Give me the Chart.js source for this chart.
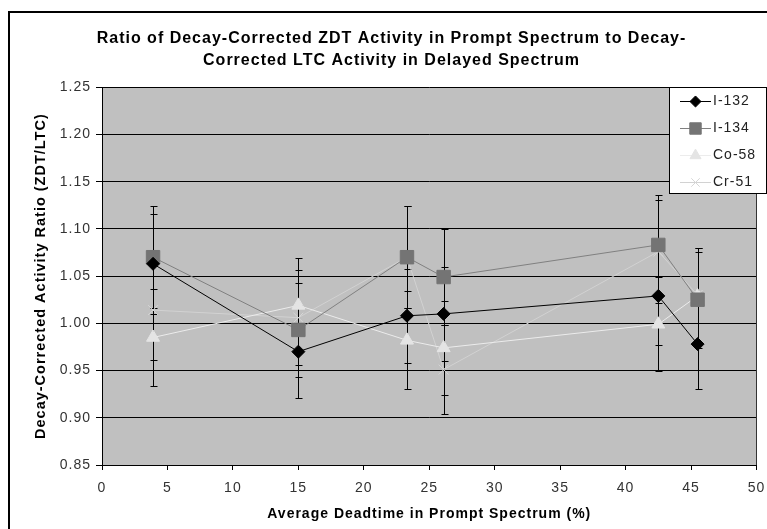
<!DOCTYPE html>
<html>
<head>
<meta charset="utf-8">
<title>ZDT / LTC activity ratio</title>
<script src="https://cdn.jsdelivr.net/npm/chart.js@4.4.0/dist/chart.umd.min.js"></script>
<style>
  body { margin: 0; background: #fff; }
  #wrap { position: relative; width: 767px; height: 529px; overflow: hidden; }
  #frame { position: absolute; left: 8px; top: 11px; width: 800px; height: 600px; border: 2px solid #000; }
  #ratioChart { position: absolute; left: 0; top: 0; }
</style>
</head>
<body>
<div id="wrap">
  <div id="frame"></div>
  <canvas id="ratioChart" width="767" height="529"></canvas>
</div>
<script>
// Average deadtime in prompt spectrum (%), same for every nuclide
const deadtime = [3.9, 15.0, 23.3, 26.1, 42.5, 45.5];

// Decay-corrected ZDT/LTC ratio and its uncertainty, per nuclide
const i132 = [1.063, 0.970, 1.008, 1.010, 1.029, 0.978];
const i132Err = [0.053, 0.049, 0.050, 0.050, 0.052, 0.048];

const i134 = [1.070, 0.993, 1.070, 1.049, 1.083, 1.025];
const i134Err = [0.054, 0.050, 0.054, 0.051, 0.053, 0.051];

const co58 = [0.985, 1.019, 0.982, 0.974, 0.999, 1.029];
const co58Err = [0.051, 0.050, 0.052, 0.050, 0.050, 0.051];

const cr51 = [1.014, 1.006, 1.070, 0.951, 1.076, 1.030];
const cr51Err = [0.053, 0.050, 0.054, 0.047, 0.055, 0.050];

const xTicks = [0, 5, 10, 15, 20, 25, 30, 35, 40, 45, 50];
const yTicks = [0.85, 0.90, 0.95, 1.00, 1.05, 1.10, 1.15, 1.20, 1.25];

const FONT = "'Liberation Sans', Arial, sans-serif";

function points(values) {
    return values.map((v, i) => ({ x: deadtime[i], y: v }));
}

function series(label, values, errors, line, fill, marker, radius) {
    return {
        label: label,
        data: points(values),
        errors: errors,
        borderColor: line,
        borderWidth: 1,
        pointStyle: marker,
        pointRadius: radius,
        pointHoverRadius: radius,
        pointBackgroundColor: fill,
        pointBorderColor: fill,
        pointBorderWidth: 1,
        tension: 0
    };
}

// Windows-style chart text is wider than plain Arial
function spaceText(chart) {
    chart.ctx.letterSpacing = '1px';
}

const plotBackground = {
    id: 'plotBackground',
    beforeUpdate: spaceText,
    beforeDraw(chart) {
        spaceText(chart);
        const a = chart.chartArea;
        const ctx = chart.ctx;
        ctx.save();
        ctx.fillStyle = '#c0c0c0';
        ctx.fillRect(a.left, a.top, a.right - a.left, a.bottom - a.top);
        ctx.restore();
    },
    afterDatasetsDraw(chart) {
        const a = chart.chartArea;
        const ctx = chart.ctx;
        ctx.save();
        ctx.strokeStyle = '#333';
        ctx.lineWidth = 1;
        ctx.beginPath();
        ctx.moveTo(Math.round(a.right) - 0.5, a.top);
        ctx.lineTo(Math.round(a.right) - 0.5, a.bottom);
        ctx.stroke();
        ctx.restore();
    }
};

// Vertical error bars with small caps, drawn under the markers
const errorBars = {
    id: 'errorBars',
    beforeDatasetsDraw(chart) {
        const ctx = chart.ctx;
        const xs = chart.scales.x;
        const ys = chart.scales.y;
        ctx.save();
        ctx.strokeStyle = '#000';
        ctx.lineWidth = 1;
        chart.data.datasets.forEach(ds => {
            ds.data.forEach((p, i) => {
                const x = Math.round(xs.getPixelForValue(p.x)) + 0.5;
                const top = Math.round(ys.getPixelForValue(p.y + ds.errors[i])) + 0.5;
                const bottom = Math.round(ys.getPixelForValue(p.y - ds.errors[i])) + 0.5;
                ctx.beginPath();
                ctx.moveTo(x, top);
                ctx.lineTo(x, bottom);
                ctx.moveTo(x - 3, top);
                ctx.lineTo(x + 4, top);
                ctx.moveTo(x - 3, bottom);
                ctx.lineTo(x + 4, bottom);
                ctx.stroke();
            });
        });
        ctx.restore();
    }
};

// Legend box floating over the top right of the plot
const floatingLegend = {
    id: 'floatingLegend',
    afterDraw(chart) {
        const ctx = chart.ctx;
        const left = 669.5, top = 87.5, width = 97, height = 106;
        ctx.save();
        ctx.fillStyle = '#fff';
        ctx.fillRect(left, top, width, height);
        ctx.strokeStyle = '#000';
        ctx.lineWidth = 1;
        ctx.strokeRect(left, top, width, height);
        ctx.font = '14px ' + FONT;
        ctx.textBaseline = 'middle';
        chart.data.datasets.forEach((ds, i) => {
            const y = Math.round(top + 13 + i * 27.3) + 0.5;
            ctx.strokeStyle = ds.borderColor;
            ctx.beginPath();
            ctx.moveTo(680, y);
            ctx.lineTo(711, y);
            ctx.stroke();
            ctx.fillStyle = ds.pointBackgroundColor;
            ctx.strokeStyle = ds.pointBorderColor;
            Chart.helpers.drawPoint(ctx, {
                pointStyle: ds.pointStyle,
                radius: ds.pointRadius * 0.85,
                borderWidth: 1,
                rotation: 0
            }, 695.5, y);
            ctx.fillStyle = '#222';
            ctx.fillText(ds.label, 713, y);
        });
        ctx.restore();
    }
};

document.addEventListener('DOMContentLoaded', function() {
    const ctx = document.getElementById('ratioChart');
    new Chart(ctx, {
        type: 'line',
        data: {
            datasets: [
                series('I-132', i132, i132Err, '#000000', '#000000', 'rectRot', 6.5),
                series('I-134', i134, i134Err, '#808080', '#747474', 'rect', 9.5),
                series('Co-58', co58, co58Err, '#ececec', '#e4e4e4', 'triangle', 7.5),
                series('Cr-51', cr51, cr51Err, '#d2d2d2', '#d6d6d6', 'crossRot', 7)
            ]
        },
        plugins: [plotBackground, errorBars, floatingLegend],
        options: {
            responsive: false,
            animation: false,
            layout: { padding: { left: 26, right: 10, top: 0, bottom: 0 } },
            plugins: {
                legend: { display: false },
                tooltip: { enabled: false },
                title: {
                    display: true,
                    text: ['Ratio of Decay-Corrected ZDT Activity in Prompt Spectrum to Decay-',
                           'Corrected LTC Activity in Delayed Spectrum'],
                    color: '#000',
                    font: { family: FONT, size: 16, weight: 'bold', lineHeight: 1.35 },
                    padding: { top: 28, bottom: 16 }
                }
            },
            scales: {
                x: {
                    type: 'linear',
                    min: 0,
                    max: 50,
                    afterBuildTicks: s => { s.ticks = xTicks.map(v => ({ value: v })); },
                    afterFit: s => {
                        s.height = 64;
                        s.paddingLeft = 0;
                        s.paddingRight = 0;
                    },
                    grid: { drawOnChartArea: false, drawTicks: true, tickLength: 5, color: '#000' },
                    border: { display: true, color: '#000', width: 1 },
                    ticks: {
                        color: '#333',
                        font: { family: FONT, size: 14 },
                        padding: 10,
                        maxRotation: 0,
                        autoSkip: false
                    },
                    title: {
                        display: true,
                        text: 'Average Deadtime in Prompt Spectrum (%)',
                        color: '#000',
                        font: { family: FONT, size: 14, weight: 'bold' },
                        padding: { top: 0, bottom: 6 }
                    }
                },
                y: {
                    min: 0.85,
                    max: 1.25,
                    afterBuildTicks: s => { s.ticks = yTicks.map(v => ({ value: v })); },
                    afterFit: s => { s.width = 76; },
                    grid: { color: '#000', tickLength: 6, drawTicks: true },
                    border: { display: true, color: '#000', width: 1 },
                    ticks: {
                        color: '#333',
                        font: { family: FONT, size: 14 },
                        padding: 5,
                        callback: v => v.toFixed(2)
                    },
                    title: {
                        display: true,
                        text: 'Decay-Corrected Activity Ratio (ZDT/LTC)',
                        color: '#000',
                        font: { family: FONT, size: 14.5, weight: 'bold' },
                        padding: { top: 6, bottom: 0 }
                    }
                }
            }
        }
    });
});
</script>
</body>
</html>
